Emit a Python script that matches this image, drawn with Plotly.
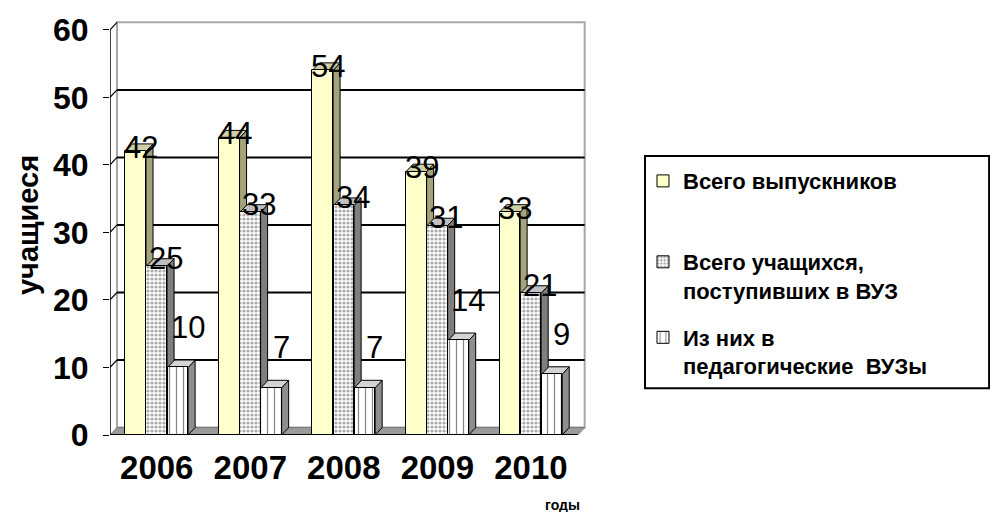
import plotly.graph_objects as go

# ---- data ----
years = ["2006", "2007", "2008", "2009", "2010"]
graduates = [42, 44, 54, 39, 33]          # Всего выпускников
entered = [25, 33, 34, 31, 21]            # Всего учащихся, поступивших в ВУЗ
pedagogical = [10, 7, 7, 14, 9]           # Из них в педагогические ВУЗы
series_names = ["Всего выпускников",
                "Всего учащихся,<br>поступивших в ВУЗ",
                "Из них в<br>педагогические  ВУЗы"]
y_ticks = [0, 10, 20, 30, 40, 50, 60]
y_title = "учащиеся"
x_title = "годы"

# ---- styling ----
FONT = "Arial, Liberation Sans, sans-serif"
offsets = [-0.225, 0.0, 0.225]
bw = 0.22
DX, DY = 0.075, 1.1          # 3D depth in axis units
front_fill = ["#FFFFCC", "white", "white"]
patterns = [dict(shape=""),
            dict(shape=".", fgcolor="#555555", bgcolor="white", size=4, solidity=0.5),
            dict(shape="|", fgcolor="#111111", bgcolor="white", size=7, solidity=0.18)]
side_col = ["#A3A37C", "#7e7e7e", "#8e8e8e"]
top_col = ["#CFCFA6", "#c0c0c0", "#d4d4d4"]
label_lift = [4, 8, 40]
label_dx = [0.02, 0.06, 0.07]
legend_ids = ["legend", "legend2", "legend3"]
legend_tops = [0.664, 0.4686, 0.2862]

series = [graduates, entered, pedagogical]
ncat = len(years)
ymax = y_ticks[-1]

fig = go.Figure()
shapes = []

def poly(pts, fill, line="black", w=1, layer="between"):
    d = "M" + " L".join(f"{x},{y}" for x, y in pts) + " Z"
    return dict(type="path", path=d, xref="x", yref="y", fillcolor=fill,
                line=dict(color=line, width=w), layer=layer)

# back wall + floor
shapes.append(poly([(DX, DY), (ncat + DX, DY), (ncat + DX, ymax + DY), (DX, ymax + DY)],
                   "white", line="#a8a8a8", w=2, layer="below"))
shapes.append(poly([(0, 0), (ncat, 0), (ncat + DX, DY), (DX, DY)], "#9a9a9a",
                   line="#777777", w=1, layer="below"))
for v in y_ticks[1:-1]:
    shapes.append(dict(type="line", xref="x", yref="y", x0=DX, x1=ncat + DX,
                       y0=v + DY, y1=v + DY, line=dict(color="black", width=2), layer="below"))
for v in y_ticks[1:]:
    shapes.append(dict(type="line", xref="x", yref="y", x0=0, x1=DX,
                       y0=v, y1=v + DY, line=dict(color="black", width=1.2), layer="below"))
# front axis and floor edge
shapes.append(dict(type="line", xref="x", yref="y", x0=0, x1=0, y0=0, y1=ymax,
                   line=dict(color="black", width=1.5), layer="above"))
shapes.append(dict(type="line", xref="x", yref="y", x0=0, x1=ncat, y0=0, y1=0,
                   line=dict(color="black", width=2), layer="above"))
for k in range(ncat + 1):
    shapes.append(dict(type="line", xref="x", yref="y", x0=k, x1=k, y0=0, y1=-6,
                       ysizemode="pixel", yanchor=0, line=dict(color="black", width=1.2)))

# 3D side and top faces, left to right
for i in range(ncat):
    for s, vals in enumerate(series):
        v = vals[i]
        xl = i + 0.5 + offsets[s] - bw / 2
        xr = xl + bw
        shapes.append(poly([(xr, 0), (xr + DX, DY), (xr + DX, v + DY), (xr, v)], side_col[s]))
        shapes.append(poly([(xl, v), (xl + DX, v + DY), (xr + DX, v + DY), (xr, v)], top_col[s]))

# front faces as bars
for s, vals in enumerate(series):
    fig.add_trace(go.Bar(
        x=[i + 0.5 + offsets[s] for i in range(ncat)], y=vals, width=bw,
        name=f"<b>{series_names[s]}</b>", legend=legend_ids[s],
        marker=dict(color=front_fill[s], line=dict(color="black", width=1),
                    pattern=patterns[s]),
        hoverinfo="y"))

# value labels
annotations = []
for s, vals in enumerate(series):
    for i, v in enumerate(vals):
        annotations.append(dict(x=i + 0.5 + offsets[s] + DX / 2 + label_dx[s], y=v,
                                xref="x", yref="y", text=str(v), showarrow=False,
                                xanchor="center", yanchor="middle", yshift=label_lift[s],
                                font=dict(family=FONT, size=31, color="black")))
annotations.append(dict(x=-0.172, y=0.507, xref="paper", yref="paper", text=f"<b>{y_title}</b>",
                        textangle=-90, showarrow=False, xanchor="center", yanchor="middle",
                        font=dict(family=FONT, size=29, color="black")))
annotations.append(dict(x=0.948, y=-0.17, xref="paper", yref="paper", text=f"<b>{x_title}</b>",
                        showarrow=False, xanchor="center", yanchor="middle",
                        font=dict(family=FONT, size=14, color="black")))

# legend box
shapes.append(dict(type="rect", xref="paper", yref="paper", x0=1.1216, x1=1.843, y0=0.113, y1=0.674,
                   line=dict(color="black", width=2), fillcolor="white", layer="below"))

legend_style = dict(x=1.1174, xanchor="left", yanchor="top", valign="top",
                    bgcolor="rgba(0,0,0,0)", borderwidth=0, itemwidth=30,
                    font=dict(family=FONT, size=22, color="black"))

# the page body adds an 8px margin on every side, so the figure is 16px smaller
fig.update_layout(
    width=982, height=504,
    margin=dict(l=102, r=403, t=13, b=77),
    paper_bgcolor="white", plot_bgcolor="white",
    bargap=0, barmode="overlay",
    shapes=shapes, annotations=annotations,
    showlegend=True,
    legend=dict(legend_style, y=legend_tops[0]),
    legend2=dict(legend_style, y=legend_tops[1]),
    legend3=dict(legend_style, y=legend_tops[2]),
    xaxis=dict(range=[0, ncat + 0.1], tickvals=[i + 0.5 for i in range(ncat)],
               ticktext=[f"<b>{y}</b>" for y in years], ticks="", showgrid=False,
               zeroline=False, showline=False, fixedrange=True, ticklabelstandoff=10,
               automargin=False,
               tickfont=dict(family=FONT, size=33, color="black")),
    yaxis=dict(range=[0, ymax + 1.3], tickvals=y_ticks,
               ticktext=[f"<b>{t}</b>" for t in y_ticks], ticks="outside", ticklen=6,
               tickcolor="black", showgrid=False, zeroline=False, showline=False,
               ticklabelstandoff=8, automargin=False,
               tickfont=dict(family=FONT, size=32, color="black")),
)

fig.write_html("out.html")
